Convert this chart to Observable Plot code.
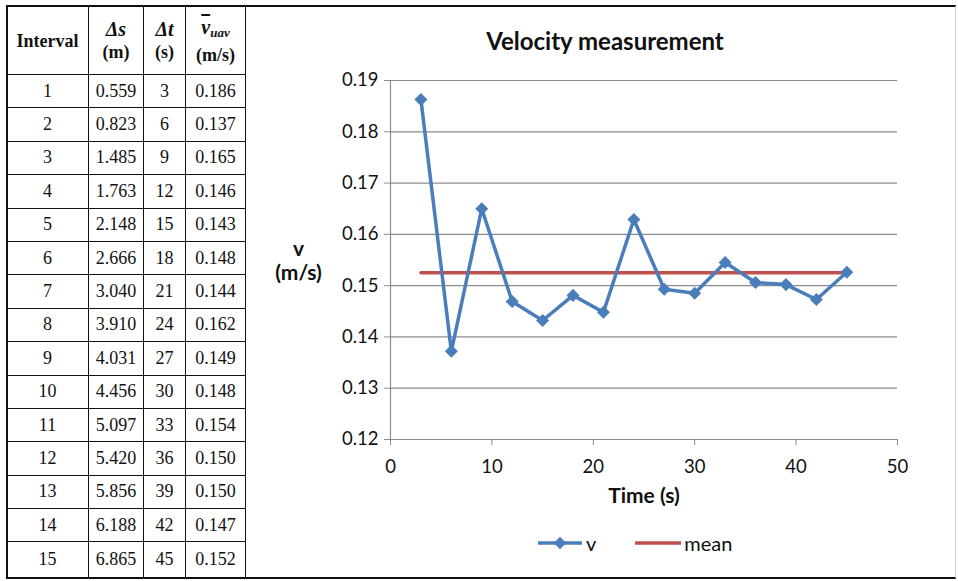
<!DOCTYPE html>
<html><head><meta charset="utf-8">
<script src="https://cdn.jsdelivr.net/npm/d3@7"></script>
<script src="https://cdn.jsdelivr.net/npm/@observablehq/plot@0.6"></script>
<style>
body{margin:0;background:#fff;}
#wrap{position:relative;width:958px;height:581px;overflow:hidden;background:#fff;}
#frame{position:absolute;left:6px;top:5px;width:950px;height:574px;border-top:2.5px solid #111;border-bottom:2.5px solid #111;border-left:2px solid #111;border-right:1px solid #ccc;box-sizing:border-box;}
table.tbl{position:absolute;left:6px;top:6px;border-collapse:collapse;font-family:"Liberation Serif","DejaVu Serif",serif;font-size:18px;color:#111;}
table.tbl td{border:1.6px solid #111;text-align:center;padding:0;}
table.tbl tr.head td{font-weight:bold;height:67px;line-height:22px;}
.sym{font-size:20px;font-style:italic;}
#title{position:absolute;left:248px;width:714px;top:26px;text-align:center;font-family:Lato,"Open Sans",sans-serif;font-weight:bold;font-size:24px;color:#111;}
#chart{position:absolute;left:248px;top:8px;}
#legend{position:absolute;top:531px;left:536px;font-family:Lato,"Open Sans",sans-serif;font-size:20px;color:#111;display:flex;align-items:center;}
#legend svg{display:block;}
</style></head><body><div id="wrap"><div id="frame"></div><div id="title">Velocity measurement</div><div id="chart"></div><div id="legend"></div></div>
<script>
const intervals = [1, 2, 3, 4, 5, 6, 7, 8, 9, 10, 11, 12, 13, 14, 15];
const deltaS = ["0.559", "0.823", "1.485", "1.763", "2.148", "2.666", "3.040", "3.910", "4.031", "4.456", "5.097", "5.420", "5.856", "6.188", "6.865"];
const deltaT = [3, 6, 9, 12, 15, 18, 21, 24, 27, 30, 33, 36, 39, 42, 45];
const vTable = ["0.186", "0.137", "0.165", "0.146", "0.143", "0.148", "0.144", "0.162", "0.149", "0.148", "0.154", "0.150", "0.150", "0.147", "0.152"];
const time = [3, 6, 9, 12, 15, 18, 21, 24, 27, 30, 33, 36, 39, 42, 45];
const velocity = [0.1863, 0.1372, 0.1650, 0.1469, 0.1432, 0.1481, 0.1448, 0.1629, 0.1493, 0.1485, 0.1545, 0.1506, 0.1502, 0.1473, 0.1526];
const meanVelocity = 0.1525;
const yTicks = [0.12, 0.13, 0.14, 0.15, 0.16, 0.17, 0.18, 0.19];
const xTicks = [0, 10, 20, 30, 40, 50];

const BLUE = "#4A7EBB", RED = "#C0504D", GRID = "#8c8c8c";

// table
const wrap = document.getElementById("wrap");
const tbl = document.createElement("table");
tbl.className = "tbl";
const colW = [82, 55, 42, 60];
let html = "<colgroup>" + colW.map(w => `<col style="width:${w}px">`).join("") + "</colgroup>";
html += `<tr class="head"><td>Interval</td><td><span class="sym">Δs</span><br>(m)</td><td><span class="sym">Δt</span><br>(s)</td><td><span class="sym"><span style="text-decoration:overline">v</span><span style="font-size:13px;vertical-align:-3px">uav</span></span><br>(m/s)</td></tr>`;
intervals.forEach((n, i) => {
  const h = i === intervals.length - 1 ? 36 : 33.4;
  html += `<tr style="height:${h}px"><td>${n}</td><td>${deltaS[i]}</td><td>${deltaT[i]}</td><td>${vTable[i]}</td></tr>`;
});
tbl.innerHTML = html;
wrap.appendChild(tbl);

// chart
const data = time.map((t, i) => ({t, v: velocity[i]}));
const meanData = [{t: time[0], v: meanVelocity}, {t: time[time.length - 1], v: meanVelocity}];

const chart = Plot.plot({
  width: 710, height: 570,
  marginLeft: 142, marginRight: 61, marginTop: 72, marginBottom: 139,
  style: {background: "transparent", fontFamily: "Lato, 'Open Sans', sans-serif", fontSize: "18.5px", color: "#111"},
  x: {domain: [0, 50]},
  y: {domain: [0.12, 0.19]},
  marks: [
    Plot.gridY(yTicks, {stroke: GRID, strokeOpacity: 1, strokeWidth: 1.2}),
    Plot.ruleX([0], {stroke: GRID, strokeWidth: 1.2}),
    Plot.axisY(yTicks, {tickSize: 6, tickPadding: 6, stroke: GRID, fill: "#111", fontSize: 18.5, tickFormat: d => d.toFixed(2), label: null}),
    Plot.axisX(xTicks, {tickSize: 6, tickPadding: 14, stroke: GRID, fill: "#111", fontSize: 18.5, label: null}),
    Plot.line(meanData, {x: "t", y: "v", stroke: RED, strokeWidth: 3.5}),
    Plot.line(data, {x: "t", y: "v", stroke: BLUE, strokeWidth: 3.5}),
    Plot.dot(data, {x: "t", y: "v", symbol: "square", rotate: 45, r: 5.2, fill: BLUE, stroke: "none"}),
    Plot.text(["v\n(m/s)"], {frameAnchor: "left", dx: -92, lineHeight: 1.15, fontWeight: "bold", fontSize: 21, fill: "#111", textAnchor: "middle"}),
    Plot.text(["Time (s)"], {frameAnchor: "bottom", dy: 63, fontWeight: "bold", fontSize: 21, fill: "#111"})
  ]
});
document.getElementById("chart").appendChild(chart);

// legend
const legend = document.getElementById("legend");
legend.innerHTML =
  `<svg width="48" height="18"><line x1="2" x2="46" y1="9" y2="9" stroke="${BLUE}" stroke-width="3.5"/><rect x="-4.5" y="-4.5" width="9" height="9" fill="${BLUE}" transform="translate(24 9) rotate(45)"/></svg>` +
  `<span style="margin-left:2px">v</span>` +
  `<svg width="48" height="18" style="margin-left:38px"><line x1="1" x2="47" y1="9" y2="9" stroke="${RED}" stroke-width="3.5"/></svg>` +
  `<span style="margin-left:2px">mean</span>`;
</script></body></html>
